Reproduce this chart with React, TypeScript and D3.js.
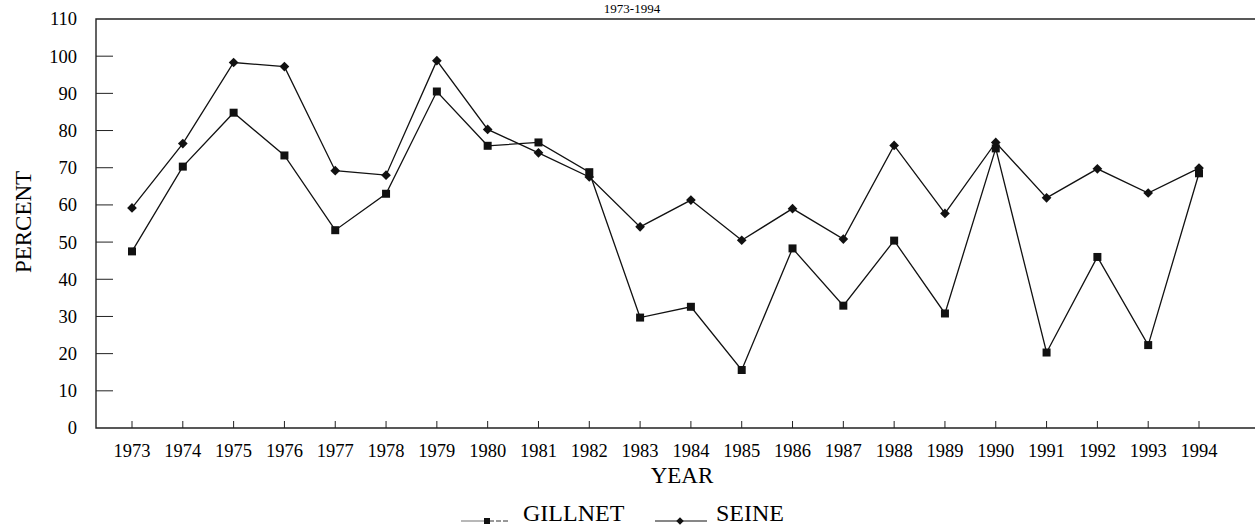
import { useEffect, useRef } from 'react';
import * as d3 from 'd3';

const years = [1973, 1974, 1975, 1976, 1977, 1978, 1979, 1980, 1981, 1982, 1983, 1984, 1985, 1986, 1987, 1988, 1989, 1990, 1991, 1992, 1993, 1994];
const gillnet = [47.5, 70.3, 84.8, 73.3, 53.2, 63, 90.5, 75.9, 76.8, 68.8, 29.7, 32.6, 15.6, 48.3, 32.9, 50.4, 30.8, 75.2, 20.3, 46, 22.3, 68.5];
const seine = [59.2, 76.5, 98.3, 97.2, 69.2, 68, 98.8, 80.3, 74, 67.5, 54.1, 61.3, 50.5, 59, 50.8, 76, 57.7, 76.8, 61.9, 69.7, 63.2, 69.9];
const yTicks = [0, 10, 20, 30, 40, 50, 60, 70, 80, 90, 100, 110];

const W = 1255;
const H = 525;
const left = 96;
const top = 19;
const bottom = 428;
const font = '"Liberation Serif", "Times New Roman", serif';

export default function App() {
  const svgRef = useRef<SVGSVGElement>(null);

  useEffect(() => {
    if (!svgRef.current) return;
    const svg = d3.select(svgRef.current);
    svg.selectAll('*').remove();

    const x = d3.scaleLinear().domain([1973, 1994]).range([132, 1199]);
    const y = d3.scaleLinear().domain([0, 110]).range([bottom, top]);

    // title (cut off by the page edge in the scan)
    svg.append('text')
      .attr('x', 632).attr('y', 13)
      .attr('text-anchor', 'middle')
      .attr('font-family', font).attr('font-size', 13)
      .text('1973-1994');

    // frame
    svg.append('path')
      .attr('d', `M${W},${top}H${left}V${bottom}H${W}`)
      .attr('fill', 'none').attr('stroke', '#222').attr('stroke-width', 1.4);

    // y ticks
    const yg = svg.append('g');
    yTicks.forEach(t => {
      if (t > 0 && t < 110) {
        yg.append('line')
          .attr('x1', left).attr('x2', left + 17)
          .attr('y1', y(t)).attr('y2', y(t))
          .attr('stroke', '#222').attr('stroke-width', 1);
      }
      yg.append('text')
        .attr('x', 77).attr('y', y(t))
        .attr('dy', '0.35em')
        .attr('text-anchor', 'end')
        .attr('font-family', font).attr('font-size', 18.5)
        .text(t);
    });

    // x ticks
    const xg = svg.append('g');
    years.forEach(yr => {
      xg.append('line')
        .attr('x1', x(yr)).attr('x2', x(yr))
        .attr('y1', bottom).attr('y2', bottom - 7)
        .attr('stroke', '#222').attr('stroke-width', 1);
      xg.append('text')
        .attr('x', x(yr)).attr('y', 457)
        .attr('text-anchor', 'middle')
        .attr('font-family', font).attr('font-size', 18.5)
        .text(yr);
    });

    svg.append('text')
      .attr('x', 682).attr('y', 483)
      .attr('text-anchor', 'middle')
      .attr('font-family', font).attr('font-size', 23)
      .text('YEAR');

    svg.append('text')
      .attr('transform', `translate(31, 222) rotate(-90)`)
      .attr('text-anchor', 'middle')
      .attr('font-family', font).attr('font-size', 23)
      .text('PERCENT');

    const line = d3.line<number>()
      .x((_, i) => x(years[i]))
      .y(d => y(d));

    const square = d3.symbol().type(d3.symbolSquare).size(64);
    const diamond = d3.symbol().type(d3.symbolDiamond2).size(60);

    const drawSeries = (vals: number[], sym: d3.Symbol<any, any>) => {
      svg.append('path')
        .attr('d', line(vals) || '')
        .attr('fill', 'none').attr('stroke', '#111').attr('stroke-width', 1.3);
      svg.append('g').selectAll('path')
        .data(vals)
        .enter()
        .append('path')
        .attr('d', sym() || '')
        .attr('transform', (d, i) => `translate(${x(years[i])},${y(d)})`)
        .attr('fill', '#111');
    };

    drawSeries(seine, diamond);
    drawSeries(gillnet, square);

    // legend
    const lg = svg.append('g');
    lg.append('line').attr('x1', 461).attr('x2', 485).attr('y1', 521).attr('y2', 521)
      .attr('stroke', '#888').attr('stroke-width', 1.2);
    lg.append('line').attr('x1', 489).attr('x2', 510).attr('y1', 521).attr('y2', 521)
      .attr('stroke', '#333').attr('stroke-width', 1).attr('stroke-dasharray', '5,2');
    lg.append('path').attr('d', d3.symbol().type(d3.symbolSquare).size(36)() || '')
      .attr('transform', 'translate(487,521)').attr('fill', '#111');
    lg.append('text').attr('x', 523).attr('y', 521)
      .attr('font-family', font).attr('font-size', 24).text('GILLNET');

    lg.append('line').attr('x1', 655).attr('x2', 707).attr('y1', 521).attr('y2', 521)
      .attr('stroke', '#111').attr('stroke-width', 1.2);
    lg.append('path').attr('d', d3.symbol().type(d3.symbolDiamond2).size(36)() || '')
      .attr('transform', 'translate(680,521)').attr('fill', '#111');
    lg.append('text').attr('x', 716).attr('y', 521)
      .attr('font-family', font).attr('font-size', 24).text('SEINE');
  }, []);

  return (
    <div style={{ position: 'fixed', left: 0, top: 0, width: W, height: H, overflow: 'hidden', background: '#fff' }}>
      <svg ref={svgRef} width={W} height={H} style={{ display: 'block' }} />
    </div>
  );
}
